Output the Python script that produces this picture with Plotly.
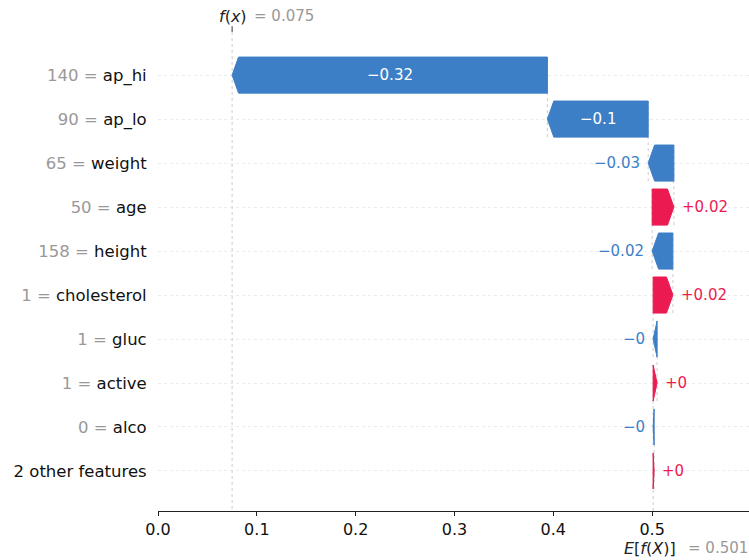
import plotly.graph_objects as go

# ---- data ----
features = ["ap_hi", "ap_lo", "weight", "age", "height", "cholesterol",
            "gluc", "active", "alco", "2 other features"]
feature_values = ["140", "90", "65", "50", "158", "1", "1", "1", "0", ""]
shap_values = [-0.319, -0.102, -0.026, 0.022, -0.021, 0.020,
               -0.004, 0.004, -0.001, 0.001]
base_value = 0.501
x_ticks = [0.0, 0.1, 0.2, 0.3, 0.4, 0.5]

BLUE = "#3D7FC6"
RED = "#EB1B52"
FONT = "DejaVu Sans"


def fmt(v):
    s = "%+0.02f" % v
    s = s.rstrip("0").rstrip(".")
    return s.replace("-", "\u2212")


n = len(features)
rows = list(range(n))
# cumulative positions from bottom row upward
starts = [0.0] * n
ends = [0.0] * n
cur = base_value
for r in range(n - 1, -1, -1):
    starts[r] = cur
    ends[r] = cur + shap_values[r]
    cur = ends[r]
fx = cur

y_top, y_bot = -0.98, 9.91
h = 0.41
HL = 0.0065

fig = go.Figure()

# faint connector lines
fig.add_trace(go.Scatter(x=[fx, fx], y=[y_top, y_bot], mode="lines",
                         line=dict(color="#cccccc", width=1, dash="dot"),
                         hoverinfo="skip", showlegend=False))
for r in rows:
    lower = y_bot if r == n - 1 else r + 1 + h
    fig.add_trace(go.Scatter(x=[starts[r], starts[r]], y=[lower, r - h],
                             mode="lines",
                             line=dict(color="#cccccc", width=1, dash="dot"),
                             hoverinfo="skip", showlegend=False))

annotations = []
for r in rows:
    v = shap_values[r]
    s, e = starts[r], ends[r]
    hl = min(abs(v), HL)
    sign = 1 if v >= 0 else -1
    neck = e - sign * hl
    xs = [s, neck, e, neck, s, s]
    ys = [r - h, r - h, r, r + h, r + h, r - h]
    col = RED if v >= 0 else BLUE
    fig.add_trace(go.Scatter(x=xs, y=ys, mode="lines", fill="toself",
                             fillcolor=col, line=dict(color=col, width=1),
                             hoverinfo="skip", showlegend=False))
    if abs(v) > 0.05:
        annotations.append(dict(x=(s + e) / 2, y=r, xref="x", yref="y",
                                text=fmt(v), showarrow=False,
                                font=dict(family=FONT, size=15, color="white")))
    else:
        annotations.append(dict(x=e, y=r, xref="x", yref="y", text=fmt(v),
                                showarrow=False,
                                xanchor="left" if v >= 0 else "right",
                                xshift=6 if v >= 0 else -6,
                                font=dict(family=FONT, size=15, color=col)))

# f(x) and E[f(X)] labels
y_fx = 1 + (32 - 16) / 479.0
y_ef = -(548 - 511) / 479.0
annotations += [
    dict(x=fx, y=y_fx, xref="x", yref="paper", text="<i>f</i>(<i>x</i>)",
         showarrow=False, xanchor="right", yanchor="middle", xshift=17,
         font=dict(family=FONT, size=16, color="#222222")),
    dict(x=fx, y=y_fx, xref="x", yref="paper",
         text="= " + ("%0.03f" % fx),
         showarrow=False, xanchor="left", yanchor="middle", xshift=20,
         font=dict(family=FONT, size=15, color="#999999")),
    dict(x=base_value, y=y_ef, xref="x", yref="paper",
         text="<i>E</i>[<i>f</i>(<i>X</i>)]",
         showarrow=False, xanchor="right", yanchor="middle", xshift=25,
         font=dict(family=FONT, size=16, color="#222222")),
    dict(x=base_value, y=y_ef, xref="x", yref="paper",
         text="= " + ("%0.03f" % base_value),
         showarrow=False, xanchor="left", yanchor="middle", xshift=33,
         font=dict(family=FONT, size=15, color="#999999")),
]

ticktext = []
for f, fv in zip(features, feature_values):
    if fv:
        ticktext.append("<span style='color:#999999'>%s = </span>%s" % (fv, f))
    else:
        ticktext.append(f)

fig.update_layout(
    width=749, height=560,
    margin=dict(l=158, r=0, t=32, b=49, autoexpand=False),
    plot_bgcolor="white", paper_bgcolor="white",
    font=dict(family=FONT, color="black"),
    annotations=annotations,
    shapes=[dict(type="line", xref="x", yref="paper", x0=fx, x1=fx,
                 y0=1.0, y1=1.012, line=dict(color="#333333", width=1))],
    xaxis=dict(range=[0, 0.598], tickvals=x_ticks,
               ticktext=["%.1f" % t for t in x_ticks],
               showline=True, linecolor="#222222", linewidth=1,
               ticks="outside", ticklen=4, tickcolor="#222222",
               showgrid=False, zeroline=False, automargin=False,
               tickfont=dict(family=FONT, size=16, color="#111111")),
    yaxis=dict(range=[y_bot, y_top], tickvals=rows, ticktext=ticktext,
               ticks="outside", ticklen=7, tickcolor="rgba(0,0,0,0)",
               showline=False, zeroline=False, automargin=False,
               showgrid=True, gridcolor="#ebebeb", gridwidth=1, griddash="dot",
               tickfont=dict(family=FONT, size=16.5, color="#111111")),
)

# remove the browser's default 8px body margin so the figure fills the window
fig.write_html("out.html",
               config={"displayModeBar": False},
               post_script="document.body.style.margin='0';"
                           "document.body.style.overflow='hidden';")
